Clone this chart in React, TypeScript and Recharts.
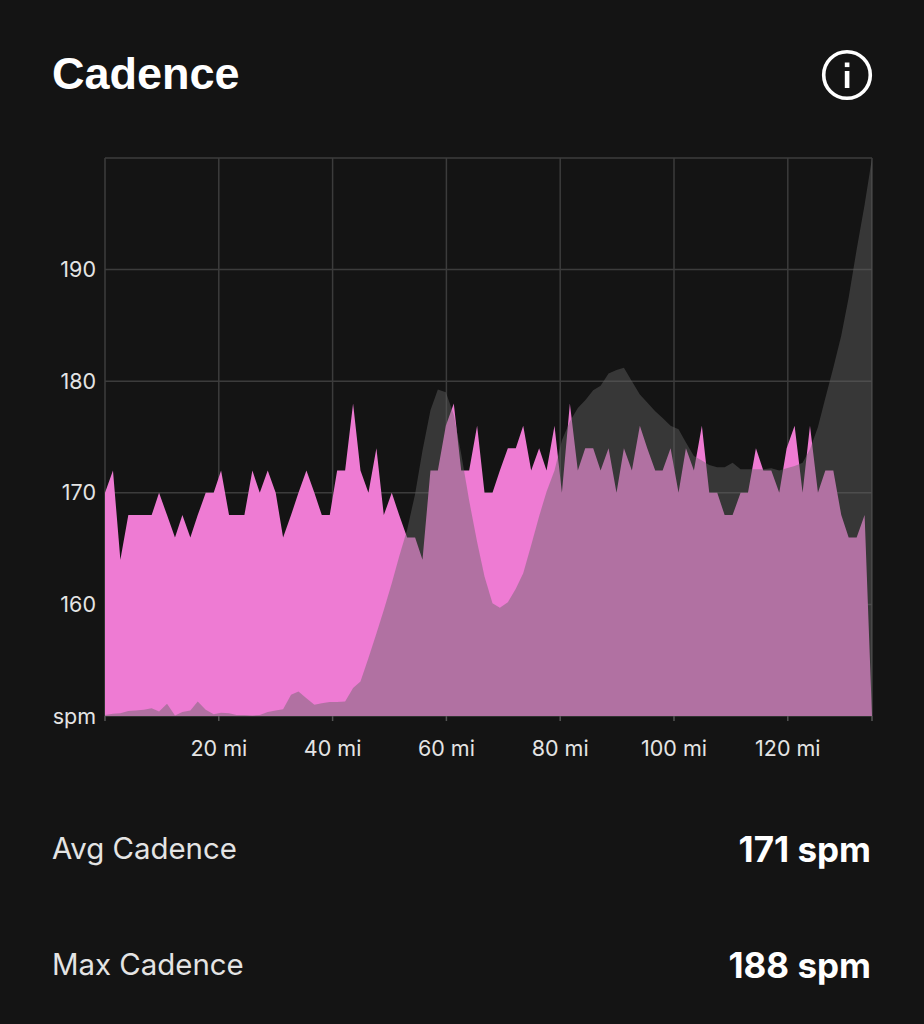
import React from "react";
import { AreaChart, Area, XAxis, YAxis, CartesianGrid } from "recharts";

const miles = [
  0,1.4,2.7,4.1,5.4,6.8,8.2,9.5,10.9,12.3,
  13.6,15,16.3,17.7,19.1,20.4,21.8,23.1,24.5,25.9,
  27.2,28.6,30,31.3,32.7,34,35.4,36.8,38.1,39.5,
  40.8,42.2,43.6,44.9,46.3,47.7,49,50.4,51.7,53.1,
  54.5,55.8,57.2,58.5,59.9,61.3,62.6,64,65.4,66.7,
  68.1,69.4,70.8,72.2,73.5,74.9,76.3,77.6,79,80.3,
  81.7,83.1,84.4,85.8,87.1,88.5,89.9,91.2,92.6,94,
  95.3,96.7,98,99.4,100.8,102.1,103.5,104.9,106.2,107.6,
  108.9,110.3,111.7,113,114.4,115.7,117.1,118.5,119.8,121.2,
  122.6,123.9,125.3,126.6,128,129.4,130.7,132.1,133.5,134.8,
];

const cadence = [
  170,172,164,168,168,168,168,170,168,166,
  168,166,168,170,170,172,168,168,168,172,
  170,172,170,166,168,170,172,170,168,168,
  172,172,178,172,170,174,168,170,168,166,
  166,164,172,172,176,178,172,172,176,170,
  170,172,174,174,176,172,174,172,176,170,
  178,172,174,174,172,174,170,174,172,176,
  174,172,172,174,170,174,172,176,170,170,
  168,168,170,170,174,172,172,170,174,176,
  170,176,170,172,172,168,166,166,168,150,
];

const elevation = [
  150.1,150.2,150.25,150.45,150.5,150.55,150.7,150.4,151.1,150.05,
  150.35,150.5,151.3,150.55,150.15,150.3,150.25,150.1,150.1,150.05,
  150.1,150.35,150.5,150.6,151.9,152.2,151.6,151,151.15,151.25,
  151.25,151.3,152.5,153.1,155.2,157.4,159.5,161.9,164.3,166.7,
  169.9,173.8,177.4,179.25,179,177,173.5,169.3,165.6,162.5,
  160.1,159.7,160.2,161.4,162.8,165.3,167.9,170.1,172,174.7,
  176.4,177.6,178.3,179.2,179.6,180.7,181,181.2,180,178.8,
  178.1,177.3,176.7,176,175.7,174.5,173.3,172.9,172.5,172.3,
  172.3,172.7,172.1,172.1,172.1,172.1,172.2,172,172.2,172.4,
  172.7,173.9,175.9,178.5,181.2,184.1,187.5,191.8,195.8,200,
];

const xTicks = [0, 20, 40, 60, 80, 100, 120, 134.8];
const yTicks = [150, 160, 170, 180, 190, 200];
const chartData = miles.map((mile, i) => ({ mile, cadence: cadence[i], elevation: elevation[i] }));

const BG = "#141414";
const GRID = "#3c3c3c";
const LABEL = "#e4e4e4";
const UI_FONT = "Inter, 'Noto Sans', sans-serif";
const HEAD_FONT = "'Liberation Sans', Arial, sans-serif";

const xLabel = (v: number) => (v === 0 || v === 134.8 ? "" : `${v} mi`);
const yLabel = (v: number) => (v === 150 ? "spm" : v === 200 ? "" : String(v));

const text = (style: React.CSSProperties, s: string) => (
  <div style={{ position: "absolute", whiteSpace: "nowrap", ...style }}>{s}</div>
);

export default function App() {
  return (
    <div style={{ position: "absolute", left: 0, top: 0, width: 924, height: 1024, background: BG, overflow: "hidden" }}>
      {text({ left: 52, top: 47, fontFamily: HEAD_FONT, fontWeight: 700, fontSize: 45, lineHeight: "54px", color: "#fff" }, "Cadence")}
      <svg style={{ position: "absolute", left: 820, top: 48 }} width={54} height={54}>
        <circle cx={27} cy={27} r={23.3} fill="none" stroke="#fff" strokeWidth={3.6} />
        <rect x={24.8} y={14.5} width={4.6} height={4.6} fill="#fff" />
        <rect x={24.8} y={23} width={4.6} height={17} fill="#fff" />
      </svg>
      <div style={{ position: "absolute", left: 0, top: 0 }}>
        <AreaChart
          width={924}
          height={800}
          data={chartData}
          margin={{ top: 158, right: 52, bottom: 0, left: 0 }}
        >
          <CartesianGrid stroke={GRID} strokeWidth={1.5} horizontalValues={yTicks} verticalValues={xTicks} />
          <XAxis
            dataKey="mile"
            type="number"
            domain={[0, 134.8]}
            ticks={xTicks}
            tickFormatter={xLabel}
            interval={0}
            height={84}
            axisLine={false}
            tickLine={{ stroke: "#555", strokeWidth: 1.5 }}
            tickSize={5}
            tickMargin={20}
            tick={{ fill: LABEL, fontSize: 21.5, fontFamily: UI_FONT }}
          />
          <YAxis
            type="number"
            domain={[150, 200]}
            ticks={yTicks}
            tickFormatter={yLabel}
            interval={0}
            allowDataOverflow
            width={105}
            axisLine={false}
            tickLine={false}
            tickMargin={3}
            tick={{ fill: LABEL, fontSize: 21.5, fontFamily: UI_FONT }}
          />
          <Area
            type="linear"
            dataKey="cadence"
            stroke="none"
            fill="#ee7bd3"
            fillOpacity={1}
            isAnimationActive={false}
            dot={false}
            activeDot={false}
          />
          <Area
            type="linear"
            dataKey="elevation"
            stroke="none"
            fill="#646464"
            fillOpacity={0.44}
            isAnimationActive={false}
            dot={false}
            activeDot={false}
          />
        </AreaChart>
      </div>
      {text({ left: 52, top: 830, fontFamily: UI_FONT, fontSize: 29.4, lineHeight: "38px", color: LABEL }, "Avg Cadence")}
      {text({ right: 53, top: 828, fontFamily: UI_FONT, fontWeight: 700, fontSize: 35, lineHeight: "42px", color: "#fff" }, "171 spm")}
      {text({ left: 52, top: 946, fontFamily: UI_FONT, fontSize: 29.4, lineHeight: "38px", color: LABEL }, "Max Cadence")}
      {text({ right: 53, top: 944, fontFamily: UI_FONT, fontWeight: 700, fontSize: 35, lineHeight: "42px", color: "#fff" }, "188 spm")}
    </div>
  );
}
